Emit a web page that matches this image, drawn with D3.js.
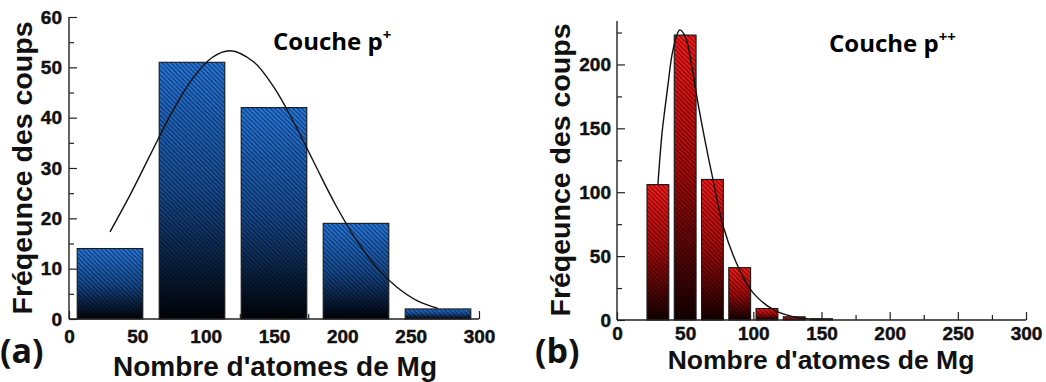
<!DOCTYPE html>
<html><head><meta charset="utf-8">
<script src="https://cdn.jsdelivr.net/npm/d3@7"></script>
<style>
body{margin:0;background:#fff;}
svg{display:block;}
</style></head>
<body><div id="chart"></div>
<script>
// ---- Data ----
const binCentersA = [30, 90, 150, 210, 270];
const countsA = [14, 51, 42, 19, 2];
const fitXA = [30, 45, 60, 75, 90, 105, 118, 135, 150, 165, 180, 195, 210, 225, 240, 255, 270];
const fitYA = [17.3, 24.8, 32.9, 40.9, 47.6, 52.0, 53.3, 51.1, 46.0, 38.8, 30.7, 22.7, 15.8, 10.3, 6.3, 3.6, 2.1];

const binCentersB = [30, 50, 70, 90, 110, 130, 150];
const countsB = [106, 223, 110, 41, 9, 2.5, 1];
const fitXB = [30, 33, 35, 37.5, 41, 46, 50, 55, 59, 65, 70, 78, 90, 100, 115, 134, 150];
const fitYB = [106, 146, 164, 185, 211, 227, 222, 198, 172, 138, 112, 73, 39, 21, 8, 1.6, 0.5];

const xTicks = [0, 50, 100, 150, 200, 250, 300];
const xMinorTicks = [25, 75, 125, 175, 225, 275];
const yTicksA = [0, 10, 20, 30, 40, 50, 60];
const yMinorA = [5, 15, 25, 35, 45, 55];
const yTicksB = [0, 50, 100, 150, 200];
const yMinorB = [25, 75, 125, 175, 225];

const yTitle = "Fréqeunce des coups";
const xTitle = "Nombre d'atomes de Mg";

// ---- Drawing ----
const W = 1046, H = 382;
const svg = d3.select("#chart").append("svg").attr("width", W).attr("height", H);
const defs = svg.append("defs");

function makeDefs(id, c0, c1, c2) {
  const g = defs.append("linearGradient").attr("id", "grad" + id)
    .attr("x1", 0).attr("y1", 0).attr("x2", 0).attr("y2", 1);
  g.append("stop").attr("offset", "0").attr("stop-color", c0);
  g.append("stop").attr("offset", "0.5").attr("stop-color", c1);
  g.append("stop").attr("offset", "1").attr("stop-color", c2);
  const p = defs.append("pattern").attr("id", "hatch" + id)
    .attr("patternUnits", "userSpaceOnUse").attr("width", 4.5).attr("height", 4.5);
  p.append("path").attr("d", "M0,0 L4.5,4.5 M-1,3.5 L1,5.5 M3.5,-1 L5.5,1")
    .attr("stroke", "rgba(0,0,0,0.6)").attr("stroke-width", 1.1);
}
makeDefs("A", "#2679e2", "#174c94", "#000308");
makeDefs("B", "#ff1a1a", "#a80a0a", "#140000");

const tickFont = "'Liberation Sans', Arial, sans-serif";

function styleTickText(sel) {
  sel.style("font-family", tickFont).style("font-weight", "bold")
    .style("font-size", "19px").attr("fill", "#111")
    .attr("stroke", "#111").attr("stroke-width", 0.45);
}

function panel(cfg) {
  const x = d3.scaleLinear().domain([0, 300]).range(cfg.xr);
  const y = d3.scaleLinear().domain([0, cfg.ymax]).range(cfg.yr);
  const g = svg.append("g");

  // x ticks (drawn under bars)
  const xa = g.append("g").attr("transform", `translate(0,${cfg.yr[0]})`)
    .call(d3.axisBottom(x).tickValues(xTicks).tickSize(-8).tickPadding(cfg.xpad).tickFormat(d3.format("d")));
  xa.select(".domain").remove();
  const xm = g.append("g").attr("transform", `translate(0,${cfg.yr[0]})`)
    .call(d3.axisBottom(x).tickValues(xMinorTicks).tickSize(-5).tickFormat(""));
  xm.select(".domain").remove();
  [xa, xm].forEach(a => a.selectAll("line").attr("stroke", "#222").attr("stroke-width", 1.2));
  styleTickText(xa.selectAll("text"));

  // bars
  const bw = cfg.binW * 0.8;
  g.selectAll("rect.hb").data(cfg.centers).enter().append("rect")
    .attr("x", (d) => x(d - bw / 2)).attr("width", (d) => x(d + bw / 2) - x(d - bw / 2))
    .attr("y", (d, i) => y(cfg.counts[i])).attr("height", (d, i) => y(0) - y(cfg.counts[i]))
    .attr("fill", `url(#grad${cfg.id})`);
  g.selectAll("rect.hh").data(cfg.centers).enter().append("rect")
    .attr("x", (d) => x(d - bw / 2)).attr("width", (d) => x(d + bw / 2) - x(d - bw / 2))
    .attr("y", (d, i) => y(cfg.counts[i])).attr("height", (d, i) => y(0) - y(cfg.counts[i]))
    .attr("fill", `url(#hatch${cfg.id})`).attr("stroke", "#1a1a1a").attr("stroke-width", 1.1);

  // fit curve
  const pts = cfg.fx.map((d, i) => [d, cfg.fy[i]]);
  g.append("path").datum(pts)
    .attr("d", d3.line().x(d => x(d[0])).y(d => y(d[1])).curve(d3.curveCatmullRom.alpha(0.5)))
    .attr("fill", "none").attr("stroke", "#111").attr("stroke-width", 1.4);

  // x domain line
  g.append("line").attr("x1", cfg.xr[0]).attr("x2", cfg.xr[1])
    .attr("y1", cfg.yr[0]).attr("y2", cfg.yr[0]).attr("stroke", "#222").attr("stroke-width", 1.4);

  // y axis
  const ya = g.append("g").attr("transform", `translate(${cfg.xr[0]},0)`)
    .call(d3.axisLeft(y).tickValues(cfg.yt).tickSize(-8).tickPadding(cfg.ypad).tickFormat(d3.format("d")));
  const ym = g.append("g").attr("transform", `translate(${cfg.xr[0]},0)`)
    .call(d3.axisLeft(y).tickValues(cfg.ym).tickSize(-5).tickFormat(""));
  ym.select(".domain").remove();
  ya.select(".domain").attr("d", `M0,${cfg.yr[0]}V${cfg.yr[1]}`).attr("stroke", "#222").attr("stroke-width", 1.4);
  [ya, ym].forEach(a => a.selectAll("line").attr("stroke", "#222").attr("stroke-width", 1.2));
  styleTickText(ya.selectAll("text"));

  // titles
  svg.append("text").attr("transform", `translate(${cfg.ytx},${cfg.yty}) rotate(-90)`)
    .attr("text-anchor", "middle").style("font-family", tickFont).style("font-weight", "bold")
    .style("font-size", "28.5px").attr("fill", "#111").text(yTitle);
  svg.append("text").attr("x", cfg.xtx).attr("y", cfg.xty)
    .attr("text-anchor", "middle").style("font-family", tickFont).style("font-weight", "bold")
    .style("font-size", cfg.xfs + "px").attr("fill", "#111").text(xTitle);

  // annotation
  const t = svg.append("text").attr("x", cfg.ax).attr("y", cfg.ay)
    .style("font-family", "'Open Sans', Lato, sans-serif").style("font-weight", "bold")
    .style("font-size", "24px").attr("fill", "#000");
  t.append("tspan").text("Couche p");
  t.append("tspan").style("font-size", "15px").attr("dy", -10).text(cfg.sup);

  // panel letter
  svg.append("text").attr("x", cfg.lx).attr("y", cfg.ly)
    .style("font-family", "'Open Sans', Lato, sans-serif").style("font-weight", "bold")
    .style("font-size", "34px").attr("fill", "#111").text(cfg.letter);
}

panel({id: "A", xr: [69, 479], yr: [319, 17], ymax: 60, binW: 60,
  centers: binCentersA, counts: countsA, fx: fitXA, fy: fitYA,
  yt: yTicksA, ym: yMinorA, ypad: 7, xpad: 11,
  ytx: 32, yty: 168, xtx: 275, xty: 376, xfs: 28,
  ax: 273, ay: 50, sup: "+", letter: "(a)", lx: 0, ly: 363});

panel({id: "B", xr: [617, 1026], yr: [320, 21], ymax: 234, binW: 20,
  centers: binCentersB, counts: countsB, fx: fitXB, fy: fitYB,
  yt: yTicksB, ym: yMinorB, ypad: 6, xpad: 7,
  ytx: 570, yty: 170, xtx: 821, xty: 369, xfs: 26.5,
  ax: 829, ay: 52, sup: "++", letter: "(b)", lx: 535, ly: 363});
</script>
</body></html>
